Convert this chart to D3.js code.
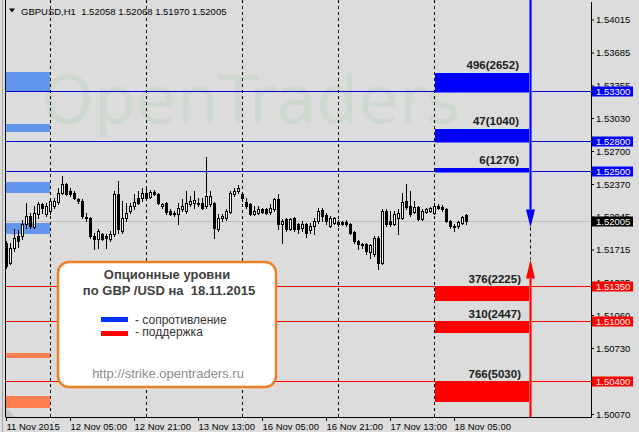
<!DOCTYPE html>
<html>
<head>
<meta charset="utf-8">
<script src="https://cdn.jsdelivr.net/npm/d3@7"></script>
<style>
body { margin: 0; background: #dcdcdc; }
svg { display: block; }
</style>
</head>
<body>
<svg id="chart"></svg>
<script>
// GBPUSD H1 candles, 11 Nov 13:00 .. 18 Nov 08:00
let openP = [
  1.5178, 1.5158, 1.5173, 1.5185, 1.5185, 1.5197, 1.5205, 1.5194, 1.5207, 1.5217,
  1.5207, 1.5210, 1.5215, 1.5219, 1.5228, 1.5237, 1.5230, 1.5228, 1.5222, 1.5220,
  1.5204, 1.5203, 1.5185, 1.5182, 1.5187, 1.5185, 1.5182, 1.5187, 1.5227, 1.5190,
  1.5203, 1.5210, 1.5215, 1.5223, 1.5223, 1.5228, 1.5224, 1.5229, 1.5227, 1.5215,
  1.5218, 1.5210, 1.5208, 1.5207, 1.5212, 1.5210, 1.5217, 1.5218, 1.5218, 1.5218,
  1.5215, 1.5217, 1.5218, 1.5192, 1.5203, 1.5203, 1.5209, 1.5227, 1.5230, 1.5227,
  1.5219, 1.5217, 1.5207, 1.5208, 1.5212, 1.5212, 1.5209, 1.5212, 1.5222, 1.5197,
  1.5202, 1.5192, 1.5203, 1.5197, 1.5193, 1.5197, 1.5191, 1.5195, 1.5200, 1.5211,
  1.5206, 1.5195, 1.5198, 1.5199, 1.5199, 1.5199, 1.5197, 1.5189, 1.5180, 1.5177,
  1.5177, 1.5169, 1.5167, 1.5183, 1.5158, 1.5210, 1.5200, 1.5197, 1.5203, 1.5203,
  1.5220, 1.5215, 1.5209, 1.5214, 1.5202, 1.5209, 1.5210, 1.5208, 1.5215, 1.5214,
  1.5212, 1.5200, 1.5195, 1.5195, 1.5198, 1.52058
];
let highP = [
  1.5180, 1.5178, 1.5192, 1.5191, 1.5201, 1.5218, 1.5208, 1.5215, 1.5219, 1.5218,
  1.5218, 1.5222, 1.5223, 1.5233, 1.5245, 1.5238, 1.5233, 1.5230, 1.5223, 1.5222,
  1.5208, 1.5204, 1.5188, 1.5192, 1.5188, 1.5187, 1.5190, 1.5230, 1.5240, 1.5220,
  1.5218, 1.5218, 1.5227, 1.5230, 1.5233, 1.5235, 1.5231, 1.5231, 1.5228, 1.5218,
  1.5219, 1.5212, 1.5210, 1.5218, 1.5222, 1.5230, 1.5225, 1.5230, 1.5223, 1.5223,
  1.5264, 1.5230, 1.5219, 1.5207, 1.5207, 1.5212, 1.5230, 1.5233, 1.5236, 1.5228,
  1.5223, 1.5218, 1.5215, 1.5215, 1.5213, 1.5213, 1.5217, 1.5223, 1.5227, 1.5202,
  1.5203, 1.5203, 1.5204, 1.5198, 1.5200, 1.5198, 1.5198, 1.5203, 1.5213, 1.5213,
  1.5208, 1.5205, 1.5204, 1.5201, 1.5200, 1.5201, 1.5198, 1.5190, 1.5181, 1.5178,
  1.5178, 1.5177, 1.5185, 1.5185, 1.5212, 1.5212, 1.5210, 1.5210, 1.5212, 1.5228,
  1.5237, 1.5230, 1.5220, 1.5215, 1.5212, 1.5213, 1.5214, 1.5218, 1.5217, 1.5216,
  1.5213, 1.5201, 1.5197, 1.5200, 1.5205, 1.52068
];
let lowP = [
  1.5153, 1.5157, 1.5170, 1.5174, 1.5182, 1.5193, 1.5193, 1.5193, 1.5203, 1.5208,
  1.5205, 1.5207, 1.5213, 1.5217, 1.5227, 1.5226, 1.5225, 1.5222, 1.5218, 1.5203,
  1.5200, 1.5183, 1.5172, 1.5173, 1.5181, 1.5173, 1.5180, 1.5185, 1.5188, 1.5188,
  1.5200, 1.5208, 1.5212, 1.5217, 1.5220, 1.5222, 1.5223, 1.5226, 1.5217, 1.5213,
  1.5207, 1.5206, 1.5205, 1.5197, 1.5210, 1.5208, 1.5215, 1.5213, 1.5215, 1.5212,
  1.5213, 1.5215, 1.5183, 1.5190, 1.5200, 1.5201, 1.5208, 1.5225, 1.5228, 1.5220,
  1.5213, 1.5206, 1.5206, 1.5207, 1.5208, 1.5207, 1.5207, 1.5210, 1.5192, 1.5178,
  1.5190, 1.5191, 1.5190, 1.5188, 1.5190, 1.5184, 1.5188, 1.5187, 1.5198, 1.5200,
  1.5197, 1.5194, 1.5197, 1.5195, 1.5196, 1.5195, 1.5187, 1.5178, 1.5172, 1.5173,
  1.5167, 1.5163, 1.5165, 1.5152, 1.5157, 1.5195, 1.5195, 1.5196, 1.5187, 1.5202,
  1.5212, 1.5205, 1.5208, 1.5201, 1.5201, 1.5208, 1.5209, 1.5207, 1.5212, 1.5210,
  1.5199, 1.5193, 1.5190, 1.5193, 1.5197, 1.51970
];
let closeP = [
  1.5155, 1.5173, 1.5183, 1.5180, 1.5197, 1.5205, 1.5195, 1.5208, 1.5217, 1.5213,
  1.5215, 1.5220, 1.5220, 1.5228, 1.5237, 1.5227, 1.5227, 1.5223, 1.5220, 1.5205,
  1.5203, 1.5185, 1.5182, 1.5190, 1.5182, 1.5183, 1.5187, 1.5227, 1.5192, 1.5203,
  1.5208, 1.5215, 1.5219, 1.5218, 1.5228, 1.5223, 1.5229, 1.5227, 1.5218, 1.5217,
  1.5209, 1.5207, 1.5207, 1.5213, 1.5215, 1.5218, 1.5220, 1.5221, 1.5217, 1.5213,
  1.5225, 1.5225, 1.5193, 1.5203, 1.5205, 1.5210, 1.5228, 1.5230, 1.5233, 1.5223,
  1.5215, 1.5207, 1.5210, 1.5212, 1.5209, 1.5208, 1.5213, 1.5222, 1.5197, 1.5200,
  1.5192, 1.5202, 1.5192, 1.5192, 1.5197, 1.5188, 1.5195, 1.5200, 1.5210, 1.5205,
  1.5200, 1.5203, 1.5203, 1.5197, 1.5197, 1.5197, 1.5188, 1.5180, 1.5177, 1.5176,
  1.5170, 1.5176, 1.5183, 1.5158, 1.5210, 1.5197, 1.5197, 1.5207, 1.5208, 1.5219,
  1.5214, 1.5207, 1.5214, 1.5202, 1.5210, 1.5212, 1.5213, 1.5215, 1.5213, 1.5212,
  1.5200, 1.5195, 1.5194, 1.5199, 1.5204, 1.52005
];

let timeLabels = ["11 Nov 2015", "12 Nov 05:00", "12 Nov 21:00", "13 Nov 13:00",
                  "16 Nov 05:00", "16 Nov 21:00", "17 Nov 13:00", "18 Nov 05:00"];
let labelBars = [0, 16, 32, 48, 64, 80, 96, 112];
let dayBars = [11, 35, 59, 83, 107];   // 00:00 of each day
let optionStart = 107, optionEnd = 131;

let priceTicks = [1.54015, 1.53685, 1.53355, 1.53030, 1.52700, 1.52370, 1.52045,
                  1.51715, 1.51385, 1.51060, 1.50730, 1.50400, 1.50070];

// today's option levels
let resistLevels = [1.5330, 1.5280, 1.5250];
let resistLabels = ["496(2652)", "47(1040)", "6(1276)"];
let resistBand = [0.0018, 0.0012, 0.0003];
let supportLevels = [1.5135, 1.5100, 1.5040];
let supportLabels = ["376(2225)", "310(2447)", "766(5030)"];
let supportBand = [0.0015, 0.0012, 0.0021];

// previous day's levels (left strip)
let prevResist = [[1.5349, 1.5330], [1.5297, 1.5289], [1.5239, 1.5228], [1.5198, 1.5187]];
let prevSupport = [[1.5068, 1.5063], [1.5025, 1.5013]];

let lastPrice = 1.52005;
let symbol = "GBPUSD,H1";

let w = 639, h = 432;
let left = 6, right = 591, bottom = 417;
let font = "'Liberation Sans', Arial, sans-serif";

let svg = d3.select("#chart").attr("width", w).attr("height", h);

let x = d3.scaleLinear().domain([0, 115]).range([6, 466]);
let y = d3.scaleLinear().domain([1.50070, 1.54015]).range([414, 19.5]);

svg.append("rect").attr("width", w).attr("height", h).attr("fill", "#dcdcdc");

// watermark
svg.append("text")
    .attr("x", 42).attr("y", 123)
    .attr("font-family", "'DejaVu Sans', sans-serif")
    .attr("font-size", 66)
    .attr("fill", "#ced8ce")
    .text("OpenTraders");

// previous levels
svg.append("g").selectAll("rect")
    .data(prevResist)
    .join("rect")
        .attr("x", left).attr("width", x(dayBars[0]) - left)
        .attr("y", d => y(d[0]))
        .attr("height", d => y(d[1]) - y(d[0]))
        .attr("fill", "#6495ed");
svg.append("g").selectAll("rect")
    .data(prevSupport)
    .join("rect")
        .attr("x", left).attr("width", x(dayBars[0]) - left)
        .attr("y", d => y(d[0]))
        .attr("height", d => y(d[1]) - y(d[0]))
        .attr("fill", "#ff7f50");

// day separators
svg.append("g").selectAll("line")
    .data(dayBars)
    .join("line")
        .attr("x1", d => Math.round(x(d)) + 0.5).attr("x2", d => Math.round(x(d)) + 0.5)
        .attr("y1", 0).attr("y2", bottom)
        .attr("stroke", "#000").attr("stroke-dasharray", "3,3");

// level lines
svg.append("g").selectAll("line")
    .data(resistLevels)
    .join("line")
        .attr("x1", left).attr("x2", right)
        .attr("y1", d => Math.round(y(d)) + 0.5).attr("y2", d => Math.round(y(d)) + 0.5)
        .attr("stroke", "#0000d8");
svg.append("g").selectAll("line")
    .data(supportLevels)
    .join("line")
        .attr("x1", left).attr("x2", right)
        .attr("y1", d => Math.round(y(d)) + 0.5).attr("y2", d => Math.round(y(d)) + 0.5)
        .attr("stroke", "#ff0000");

svg.append("line")
    .attr("x1", left).attr("x2", right)
    .attr("y1", Math.round(y(lastPrice)) + 0.5).attr("y2", Math.round(y(lastPrice)) + 0.5)
    .attr("stroke", "#c0c0c0");

// candles
let candles = openP.map((o, i) => ({i: i, o: o, h: highP[i], l: lowP[i], c: closeP[i]}));
let cg = svg.append("g");
cg.selectAll("line")
    .data(candles)
    .join("line")
        .attr("x1", d => Math.round(x(d.i)) + 0.5).attr("x2", d => Math.round(x(d.i)) + 0.5)
        .attr("y1", d => Math.round(y(d.h))).attr("y2", d => Math.round(y(d.l)) + 1)
        .attr("stroke", "#000");
cg.selectAll("rect")
    .data(candles)
    .join("rect")
        .attr("x", d => Math.round(x(d.i)) - 0.5)
        .attr("width", 2)
        .attr("y", d => Math.round(y(Math.max(d.o, d.c))) + 0.5)
        .attr("height", d => Math.max(1, Math.round(y(Math.min(d.o, d.c))) - Math.round(y(Math.max(d.o, d.c)))))
        .attr("fill", d => d.c >= d.o ? "#fff" : "#000")
        .attr("stroke", "#000");

// option bars
let x0 = x(optionStart), x1 = x(optionEnd);
let og = svg.append("g");
og.selectAll("rect.res")
    .data(resistLevels)
    .join("rect")
        .attr("class", "res")
        .attr("x", x0 + 1).attr("width", x1 - x0 - 1)
        .attr("y", (d, i) => y(d + resistBand[i]))
        .attr("height", (d, i) => y(d) - y(d + resistBand[i]) + 1.5)
        .attr("fill", "#0000ff");
og.selectAll("rect.sup")
    .data(supportLevels)
    .join("rect")
        .attr("class", "sup")
        .attr("x", x0 + 1).attr("width", x1 - x0 - 1)
        .attr("y", d => y(d))
        .attr("height", (d, i) => y(d - supportBand[i]) - y(d))
        .attr("fill", "#ff0000");
og.selectAll("text.res")
    .data(resistLevels)
    .join("text")
        .attr("class", "res")
        .attr("x", 519)
        .attr("y", (d, i) => y(d + resistBand[i]) - 4)
        .attr("text-anchor", "end")
        .attr("font-family", font).attr("font-weight", "bold").attr("font-size", 11.5)
        .attr("fill", "#1a1a1a")
        .text((d, i) => resistLabels[i]);
og.selectAll("text.sup")
    .data(supportLevels)
    .join("text")
        .attr("class", "sup")
        .attr("x", 521)
        .attr("y", d => y(d) - 3.5)
        .attr("text-anchor", "end")
        .attr("font-family", font).attr("font-weight", "bold").attr("font-size", 11.5)
        .attr("fill", "#1a1a1a")
        .text((d, i) => supportLabels[i]);

// arrows
let ax = Math.round(x1) + 0.5;
let arrowTop = y(lastPrice) - 11, arrowBot = y(lastPrice) + 39;
svg.append("line")
    .attr("x1", ax).attr("x2", ax).attr("y1", arrowTop + 18).attr("y2", arrowBot)
    .attr("stroke", "#000").attr("stroke-dasharray", "3,3");
svg.append("line")
    .attr("x1", ax).attr("x2", ax).attr("y1", 0).attr("y2", arrowTop)
    .attr("stroke", "#7f7fff").attr("stroke-width", 3);
svg.append("line")
    .attr("x1", ax).attr("x2", ax).attr("y1", 0).attr("y2", arrowTop)
    .attr("stroke", "#0000ff").attr("stroke-width", 1.5);
svg.append("path")
    .attr("d", `M${ax - 4.5},${arrowTop} L${ax + 4.5},${arrowTop} L${ax},${arrowTop + 18} Z`)
    .attr("fill", "#0000ff");
svg.append("line")
    .attr("x1", ax).attr("x2", ax).attr("y1", arrowBot + 19).attr("y2", bottom)
    .attr("stroke", "#ff8080").attr("stroke-width", 3);
svg.append("line")
    .attr("x1", ax).attr("x2", ax).attr("y1", arrowBot + 19).attr("y2", bottom)
    .attr("stroke", "#ff0000").attr("stroke-width", 1.5);
svg.append("path")
    .attr("d", `M${ax - 4.5},${arrowBot + 19} L${ax + 4.5},${arrowBot + 19} L${ax},${arrowBot} Z`)
    .attr("fill", "#ff0000");

// legend box
let lg = svg.append("g");
lg.append("rect")
    .attr("x", 58).attr("y", 262).attr("width", 218).attr("height", 125)
    .attr("rx", 11).attr("ry", 11)
    .attr("fill", "#fff").attr("stroke", "#ef7f22").attr("stroke-width", 2.5);
lg.append("text")
    .attr("x", 167).attr("y", 279).attr("text-anchor", "middle")
    .attr("font-family", font).attr("font-weight", "bold").attr("font-size", 13)
    .attr("fill", "#404040")
    .text("Опционные уровни");
lg.append("text")
    .attr("x", 169).attr("y", 295).attr("text-anchor", "middle")
    .attr("font-family", font).attr("font-weight", "bold").attr("font-size", 13)
    .attr("fill", "#404040").style("white-space", "pre")
    .text("по GBP /USD на  18.11.2015");
lg.append("rect").attr("x", 101).attr("y", 317).attr("width", 27).attr("height", 5).attr("fill", "#0033ff");
lg.append("rect").attr("x", 101).attr("y", 331).attr("width", 27).attr("height", 5).attr("fill", "#ff0000");
lg.append("text")
    .attr("x", 135).attr("y", 323.5)
    .attr("font-family", font).attr("font-size", 12).attr("fill", "#333")
    .text("- сопротивление");
lg.append("text")
    .attr("x", 135).attr("y", 335.5)
    .attr("font-family", font).attr("font-size", 12).attr("fill", "#333")
    .text("- поддержка");
lg.append("text")
    .attr("x", 168).attr("y", 377.5).attr("text-anchor", "middle")
    .attr("font-family", font).attr("font-size", 13).attr("fill", "#8c8c8c")
    .text("http://strike.opentraders.ru");

// header
svg.append("path").attr("d", "M9,8.5 L15,8.5 L12,12.5 Z").attr("fill", "#000");
svg.append("text")
    .attr("x", 21).attr("y", 14.5)
    .attr("font-family", font).attr("font-size", 9.5).attr("fill", "#000")
    .style("white-space", "pre")
    .text(symbol + "  " + [openP[115], highP[115], lowP[115], closeP[115]].map(d3.format(".5f")).join(" "));

// axes
let yAxis = d3.axisRight(y).tickValues(priceTicks).tickSize(3).tickPadding(2).tickFormat(d3.format(".5f"));
let yAxisGroup = svg.append("g")
    .attr("transform", `translate(${right},0)`)
    .call(yAxis);
yAxisGroup.select(".domain").remove();
yAxisGroup.selectAll("text").attr("font-family", font).attr("font-size", 9.5).attr("fill", "#000");

let xAxis = d3.axisBottom(x).tickValues(labelBars).tickSize(4).tickPadding(2)
    .tickFormat((d, i) => timeLabels[i]);
let xAxisGroup = svg.append("g")
    .attr("transform", `translate(0,${bottom})`)
    .call(xAxis);
xAxisGroup.select(".domain").remove();
xAxisGroup.selectAll("text")
    .attr("text-anchor", "start")
    .attr("font-family", font).attr("font-size", 9.5).attr("fill", "#000");

// highlighted price labels
let marks = resistLevels.map(d => [d, "#0000ff"])
    .concat(supportLevels.map(d => [d, "#ff0000"]))
    .concat([[lastPrice, "#000"]]);
let mg = svg.append("g");
mg.selectAll("rect")
    .data(marks)
    .join("rect")
        .attr("x", right + 1).attr("width", 41)
        .attr("y", d => Math.round(y(d[0])) - 4.5).attr("height", 10)
        .attr("fill", d => d[1]);
mg.selectAll("text")
    .data(marks)
    .join("text")
        .attr("x", right + 5)
        .attr("y", d => Math.round(y(d[0])) + 0.5)
        .attr("dy", "0.34em")
        .attr("font-family", font).attr("font-size", 9.5).attr("fill", "#fff")
        .text(d => d3.format(".5f")(d[0]));

// frame
svg.append("line").attr("x1", 2.5).attr("x2", 2.5).attr("y1", 0).attr("y2", h).attr("stroke", "#a8a8a8");
svg.append("line").attr("x1", 5.5).attr("x2", 5.5).attr("y1", 0).attr("y2", bottom).attr("stroke", "#000");
svg.append("line").attr("x1", right + 0.5).attr("x2", right + 0.5).attr("y1", 2).attr("y2", bottom + 0.5).attr("stroke", "#000");
svg.append("line").attr("x1", 5.5).attr("x2", right + 0.5).attr("y1", bottom + 0.5).attr("y2", bottom + 0.5).attr("stroke", "#000");
svg.append("path").attr("d", `M6,${bottom - 9} L6,${bottom} L15,${bottom} Z`).attr("fill", "#c4c4c4");
</script>
</body>
</html>
